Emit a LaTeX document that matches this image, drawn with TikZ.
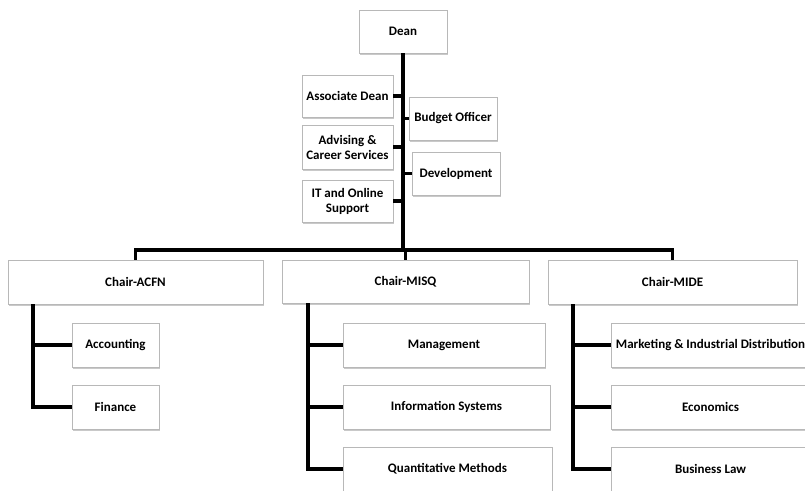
\documentclass[tikz,border=0pt]{standalone}
\usepackage{fontspec}
\setmainfont{Carlito}
\usetikzlibrary{shadows}
\tikzset{
  box/.style={draw=black!28, line width=0.8pt, fill=white, inner sep=0pt, align=center,
    font=\fontsize{13}{15}\selectfont\bfseries,
    drop shadow={shadow xshift=1.2pt, shadow yshift=-1.5pt, fill=black!35, opacity=0.6}},
  conn/.style={draw=black, line width=3.3pt}
}
\begin{document}
\begin{tikzpicture}[x=1pt,y=-1pt]
\useasboundingbox (0,0) rectangle (805,490);
\clip (0,0) rectangle (805,490);
\fill[white] (0,0) rectangle (805,490);
\coordinate (hub) at (403,250);
\coordinate (la) at (33,304);
\coordinate (lb) at (308,303);
\coordinate (lc) at (573,304);
% nodes
\node[box, minimum width=88, minimum height=43] (dean) at (403,31.5) {Dean};
\node[box, minimum width=91, minimum height=42] (assoc) at (347.5,96) {Associate Dean};
\node[box, minimum width=88, minimum height=43] (budget) at (453,118.5) {Budget Officer};
\node[box, minimum width=91, minimum height=44] (advis) at (347.5,147) {Advising \&\\Career Services};
\node[box, minimum width=88, minimum height=43] (devel) at (456,173.5) {Development};
\node[box, minimum width=91, minimum height=42] (itos) at (347.5,201) {IT and Online\\Support};
\node[box, minimum width=255, minimum height=44] (acfn) at (135.5,282) {Chair-ACFN};
\node[box, minimum width=247, minimum height=43] (misq) at (405.5,281.5) {Chair-MISQ};
\node[box, minimum width=249, minimum height=44] (mide) at (672.5,282) {Chair-MIDE};
\node[box, minimum width=87, minimum height=44] (acct) at (115.5,345) {Accounting};
\node[box, minimum width=87, minimum height=44] (fin) at (115.5,407) {Finance};
\node[box, minimum width=202, minimum height=44] (mgmt) at (444,345) {Management};
\node[box, minimum width=207, minimum height=44] (info) at (446.5,407) {Information Systems};
\node[box, minimum width=209, minimum height=44] (quant) at (447.5,469) {Quantitative Methods};
\node[box, minimum width=199, minimum height=44] (mkt) at (710.5,345) {Marketing \& Industrial Distribution};
\node[box, minimum width=199, minimum height=44] (econ) at (710.5,407) {Economics};
\node[box, minimum width=199, minimum height=44] (law) at (710.5,469) {Business Law};
% connectors
\draw[conn] (dean.south) -- (hub);
\draw[conn] (assoc.east) -- (assoc.east -| hub);
\draw[conn] (budget.west) -- (budget.west -| hub);
\draw[conn] (advis.east) -- (advis.east -| hub);
\draw[conn] (devel.west) -- (devel.west -| hub);
\draw[conn] (itos.east) -- (itos.east -| hub);
\draw[conn] (acfn.north) |- (hub) -| (mide.north);
\draw[conn] (misq.north) -- (misq.north |- hub);
\draw[conn] (la) |- (fin.west);
\draw[conn] (acct.west) -- (acct.west -| la);
\draw[conn] (lb) |- (quant.west);
\draw[conn] (mgmt.west) -- (mgmt.west -| lb);
\draw[conn] (info.west) -- (info.west -| lb);
\draw[conn] (lc) |- (law.west);
\draw[conn] (mkt.west) -- (mkt.west -| lc);
\draw[conn] (econ.west) -- (econ.west -| lc);
\end{tikzpicture}
\end{document}
